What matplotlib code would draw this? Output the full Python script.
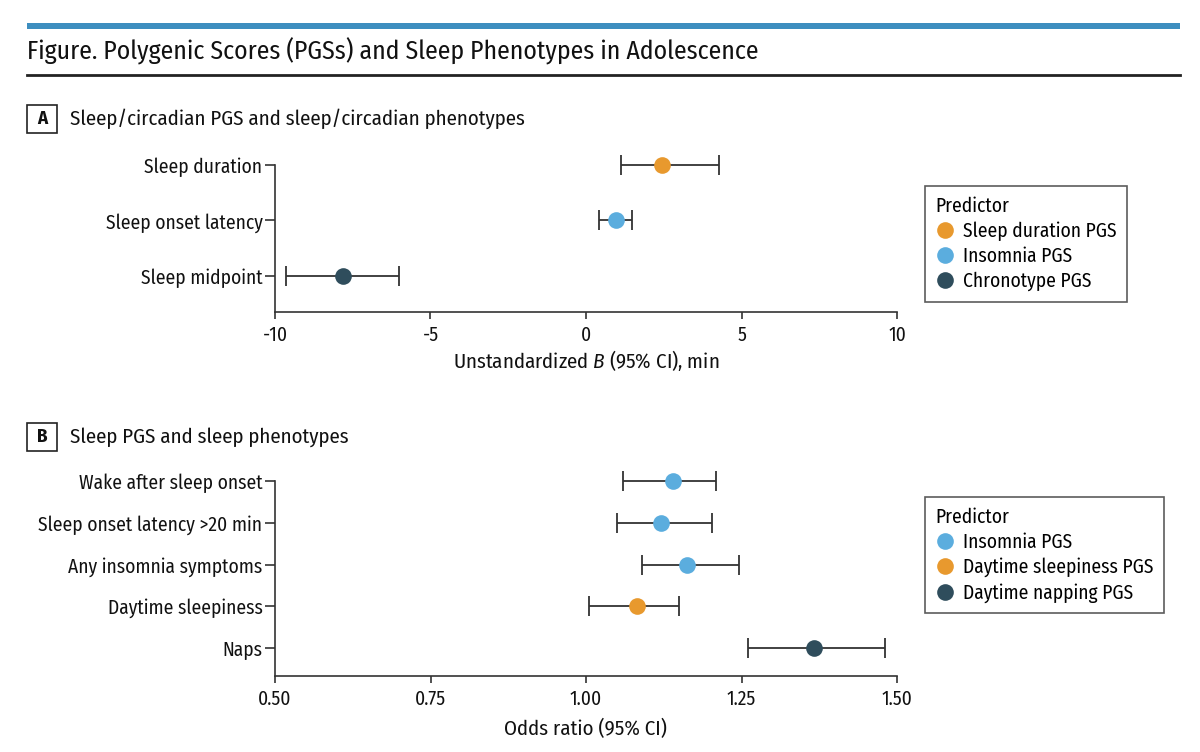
import matplotlib
matplotlib.use("Agg")
import matplotlib.pyplot as plt
from matplotlib.lines import Line2D
from matplotlib.patches import Rectangle

plt.rcParams['font.family'] = ['Fira Sans Condensed', 'DejaVu Sans']
plt.rcParams['font.stretch'] = 'condensed'
plt.rcParams['mathtext.fontset'] = 'custom'
plt.rcParams['mathtext.it'] = 'Fira Sans Condensed:italic'
plt.rcParams['mathtext.rm'] = 'Fira Sans Condensed'

# ---- data ----
title = "Figure. Polygenic Scores (PGSs) and Sleep Phenotypes in Adolescence"

a_title = "Sleep/circadian PGS and sleep/circadian phenotypes"
a_outcomes = ["Sleep duration", "Sleep onset latency", "Sleep midpoint"]
a_est = [2.43, 0.96, -7.80]
a_lo = [1.14, 0.43, -9.66]
a_hi = [4.28, 1.48, -6.02]
a_pred = ["Sleep duration PGS", "Insomnia PGS", "Chronotype PGS"]
a_xticks = [-10, -5, 0, 5, 10]
a_xticklabels = ["-10", "-5", "0", "5", "10"]

b_title = "Sleep PGS and sleep phenotypes"
b_outcomes = ["Wake after sleep onset", "Sleep onset latency >20 min",
              "Any insomnia symptoms", "Daytime sleepiness", "Naps"]
b_est = [1.140, 1.120, 1.162, 1.082, 1.367]
b_lo = [1.060, 1.050, 1.090, 1.005, 1.261]
b_hi = [1.209, 1.202, 1.246, 1.149, 1.480]
b_pred = ["Insomnia PGS", "Insomnia PGS", "Insomnia PGS",
          "Daytime sleepiness PGS", "Daytime napping PGS"]
b_legend = ["Insomnia PGS", "Daytime sleepiness PGS", "Daytime napping PGS"]
b_xticks = [0.50, 0.75, 1.00, 1.25, 1.50]
b_xticklabels = ["0.50", "0.75", "1.00", "1.25", "1.50"]

colors = {
    "Sleep duration PGS": "#E8992E",
    "Insomnia PGS": "#5BADDE",
    "Chronotype PGS": "#2F4D5C",
    "Daytime sleepiness PGS": "#E8992E",
    "Daytime napping PGS": "#2F4D5C",
}

W, H = 1200, 752
fig = plt.figure(figsize=(12, 7.52), dpi=100)

def fx(px):
    return px / W

def fy(py):
    return 1 - py / H

# header decorations
fig.add_artist(Rectangle((fx(27), fy(29)), fx(1180) - fx(27), 6 / H,
                         transform=fig.transFigure, facecolor="#3D8EBF",
                         edgecolor="none"))
fig.add_artist(Line2D([fx(27), fx(1180)], [fy(75), fy(75)],
                      transform=fig.transFigure, color="#222222", lw=2))
fig.text(fx(27), fy(51), title, fontsize=18.5, va="center", ha="left",
         color="#111111")

def panel_label(letter, text, ycenter):
    fig.add_artist(Rectangle((fx(27), fy(ycenter + 14)), 30 / W, 28 / H,
                             transform=fig.transFigure, facecolor="white",
                             edgecolor="#222222", lw=1.2))
    fig.text(fx(42), fy(ycenter), letter, fontsize=13.5, fontweight="bold",
             ha="center", va="center", color="#111111")
    fig.text(fx(70), fy(ycenter), text, fontsize=15, ha="left",
             va="center", color="#111111")

panel_label("A", a_title, 119)
panel_label("B", b_title, 437)

def forest(ax, outcomes, est, lo, hi, preds, xticks, xticklabels, xlabel,
           ylow, labelpad):
    n = len(outcomes)
    ys = list(range(n - 1, -1, -1))
    for y, e, l, h, p in zip(ys, est, lo, hi, preds):
        ax.errorbar([e], [y], xerr=[[e - l], [h - e]], fmt="none",
                    ecolor="#333333", elinewidth=1.3, capsize=7.5,
                    capthick=1.3, clip_on=False, zorder=2)
        ax.plot([e], [y], "o", color=colors[p], markersize=12, mec="none",
                clip_on=False, zorder=3)
    ax.set_ylim(ylow, n - 1)
    ax.set_xlim(xticks[0], xticks[-1])
    ax.set_yticks(ys)
    ax.set_yticklabels(outcomes, fontsize=14, color="#111111")
    ax.set_xticks(xticks)
    ax.set_xticklabels(xticklabels, fontsize=14, color="#111111")
    ax.set_xlabel(xlabel, fontsize=15, color="#111111", labelpad=labelpad)
    for s in ["top", "right"]:
        ax.spines[s].set_visible(False)
    for s in ["left", "bottom"]:
        ax.spines[s].set_color("#333333")
        ax.spines[s].set_linewidth(1.2)
    ax.tick_params(axis="y", length=7, width=1.2, color="#333333", pad=2)
    ax.tick_params(axis="x", length=5, width=1.2, color="#333333", pad=5)

axA = fig.add_axes([fx(275), fy(312), fx(897) - fx(275), (312 - 165) / H])
forest(axA, a_outcomes, a_est, a_lo, a_hi, a_pred, a_xticks, a_xticklabels,
       "Unstandardized $\\it{B}$ (95% CI), min", -0.65, 2)

axB = fig.add_axes([fx(275), fy(676), fx(897) - fx(275), (676 - 481) / H])
forest(axB, b_outcomes, b_est, b_lo, b_hi, b_pred, b_xticks, b_xticklabels,
       "Odds ratio (95% CI)", -0.67, 7)

def legend(labels, anchor):
    handles = [Line2D([], [], marker="o", ls="none", color=colors[l],
                      markersize=12, mec="none") for l in labels]
    lg = fig.legend(handles, labels, title="Predictor", loc="upper left",
                    bbox_to_anchor=anchor, bbox_transform=fig.transFigure,
                    fontsize=14, title_fontsize=14, frameon=True,
                    fancybox=False, edgecolor="#333333", handletextpad=0.4,
                    handlelength=1.0, labelspacing=0.28, borderpad=0.55,
                    borderaxespad=0)
    lg.get_frame().set_linewidth(1.2)
    lg._legend_box.align = "left"
    return lg

legend(a_pred, (fx(925), fy(186)))
legend(b_legend, (fx(925), fy(497)))

fig.savefig("out.png", dpi=100, facecolor="white")
